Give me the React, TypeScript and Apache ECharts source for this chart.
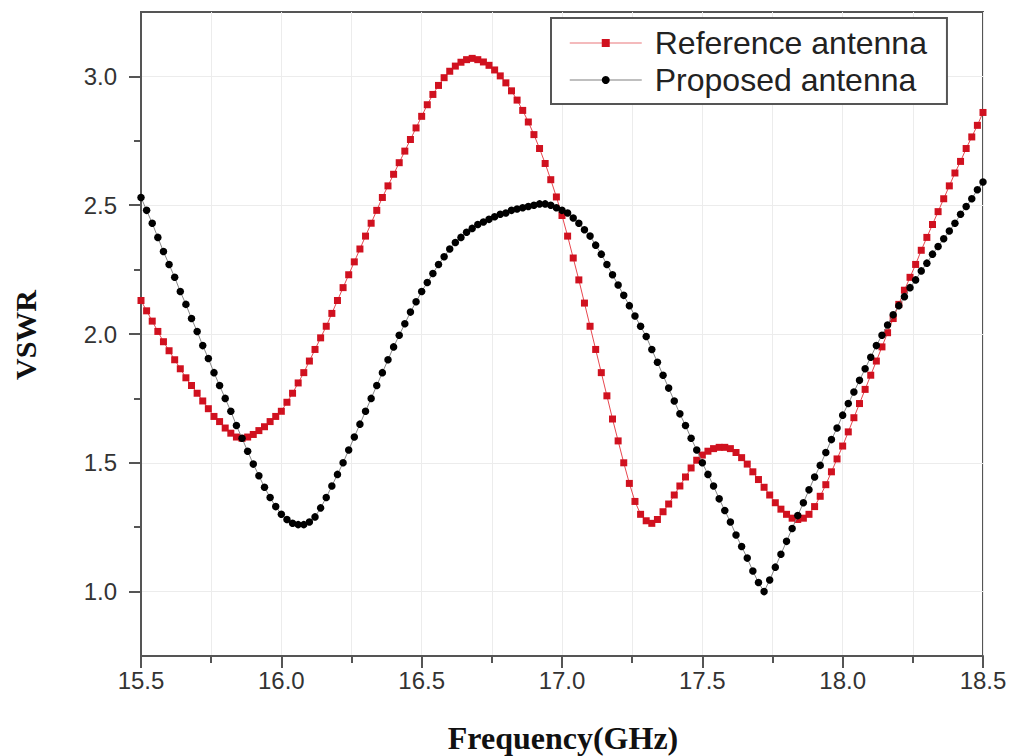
import { useEffect, useRef } from "react";
import * as echarts from "echarts";

// Sampling grid of the measured sweep (GHz)
const FREQ_START = 15.5;
const FREQ_STEP = 0.02;

// VSWR of the reference antenna, 15.50 ... 18.50 GHz every 0.02 GHz
const referenceVswr = [
  2.13, 2.09, 2.05, 2.01, 1.97, 1.935, 1.9, 1.865, 1.83, 1.8,
  1.77, 1.74, 1.71, 1.68, 1.66, 1.635, 1.615, 1.6, 1.595, 1.6,
  1.61, 1.625, 1.64, 1.66, 1.68, 1.7, 1.735, 1.77, 1.81, 1.85,
  1.895, 1.94, 1.985, 2.03, 2.08, 2.13, 2.18, 2.23, 2.28, 2.33,
  2.38, 2.43, 2.48, 2.53, 2.575, 2.62, 2.665, 2.71, 2.755, 2.8,
  2.845, 2.89, 2.93, 2.965, 2.995, 3.02, 3.04, 3.055, 3.065, 3.07,
  3.065, 3.056, 3.043, 3.025, 3.002, 2.975, 2.944, 2.908, 2.868, 2.823,
  2.774, 2.72, 2.662, 2.599, 2.532, 2.46, 2.38, 2.295, 2.21, 2.12,
  2.03, 1.94, 1.85, 1.76, 1.67, 1.585, 1.5, 1.42, 1.35, 1.3,
  1.275, 1.265, 1.28, 1.31, 1.34, 1.375, 1.41, 1.445, 1.48, 1.51,
  1.53, 1.545, 1.555, 1.56, 1.56, 1.555, 1.54, 1.52, 1.495, 1.465,
  1.435, 1.405, 1.375, 1.345, 1.32, 1.3, 1.285, 1.28, 1.285, 1.3,
  1.33, 1.37, 1.415, 1.465, 1.515, 1.565, 1.62, 1.675, 1.73, 1.785,
  1.84, 1.895, 1.95, 2.005, 2.06, 2.115, 2.17, 2.22, 2.27, 2.325,
  2.375, 2.425, 2.475, 2.525, 2.575, 2.625, 2.67, 2.72, 2.765, 2.81,
  2.86,
];

// VSWR of the proposed antenna, same frequency grid
const proposedVswr = [
  2.53, 2.48, 2.43, 2.375, 2.32, 2.27, 2.22, 2.165, 2.115, 2.06,
  2.01, 1.955, 1.905, 1.85, 1.8, 1.75, 1.7, 1.645, 1.595, 1.545,
  1.495, 1.45, 1.405, 1.365, 1.33, 1.3, 1.28, 1.265, 1.26, 1.26,
  1.27, 1.29, 1.325, 1.365, 1.41, 1.455, 1.5, 1.55, 1.6, 1.65,
  1.7, 1.75, 1.8, 1.85, 1.9, 1.95, 1.995, 2.04, 2.085, 2.125,
  2.165, 2.2, 2.235, 2.27, 2.3, 2.33, 2.355, 2.375, 2.395, 2.41,
  2.425, 2.435, 2.445, 2.455, 2.465, 2.47, 2.48, 2.485, 2.49, 2.495,
  2.5, 2.505, 2.505, 2.5, 2.49, 2.48, 2.47, 2.45, 2.43, 2.405,
  2.38, 2.345, 2.31, 2.27, 2.23, 2.19, 2.15, 2.11, 2.07, 2.03,
  1.99, 1.94, 1.89, 1.84, 1.79, 1.74, 1.69, 1.645, 1.595, 1.55,
  1.5, 1.455, 1.41, 1.36, 1.315, 1.27, 1.22, 1.175, 1.13, 1.08,
  1.035, 1.0, 1.045, 1.095, 1.145, 1.195, 1.245, 1.295, 1.345, 1.395,
  1.445, 1.49, 1.54, 1.59, 1.635, 1.685, 1.73, 1.775, 1.82, 1.865,
  1.91, 1.955, 1.995, 2.035, 2.075, 2.11, 2.145, 2.18, 2.21, 2.245,
  2.275, 2.31, 2.34, 2.37, 2.4, 2.43, 2.465, 2.495, 2.525, 2.56,
  2.59,
];

const seriesNames = ["Reference antenna", "Proposed antenna"];
const yMajorTicks = [1.0, 1.5, 2.0, 2.5, 3.0];
const yMinorTicks = [1.25, 1.75, 2.25, 2.75];
const xAxisTitle = "Frequency(GHz)";
const yAxisTitle = "VSWR";

const freq = referenceVswr.map((_, i) => +(FREQ_START + i * FREQ_STEP).toFixed(2));

const AXIS_COLOR = "#555";
const GRID_COLOR = "#ececec";

export default function App() {
  const ref = useRef<HTMLDivElement>(null);

  useEffect(() => {
    const chart = echarts.init(ref.current!, null, { renderer: "svg" });
    chart.setOption({
      animation: false,
      backgroundColor: "#ffffff",
      grid: {
        left: 141,
        right: 30,
        top: 12,
        bottom: 100,
        show: true,
        borderColor: AXIS_COLOR,
        borderWidth: 2,
        backgroundColor: "transparent",
      },
      legend: {
        left: 551,
        top: 18,
        orient: "vertical",
        backgroundColor: "#ffffff",
        borderColor: AXIS_COLOR,
        borderWidth: 2,
        borderRadius: 0,
        padding: [9, 20, 8, 18],
        itemGap: 5,
        itemWidth: 72,
        itemHeight: 10,
        textStyle: {
          fontSize: 32,
          color: "#222",
          fontFamily: "Liberation Sans",
          padding: [0, 0, 0, 8],
        },
        data: [
          { name: seriesNames[0], lineStyle: { color: "#f0a3a6", width: 1.5 } },
          { name: seriesNames[1], lineStyle: { color: "#aaaaaa", width: 1.5 } },
        ],
      },
      xAxis: {
        type: "value",
        min: 15.5,
        max: 18.5,
        interval: 0.5,
        axisLine: { lineStyle: { color: AXIS_COLOR, width: 2 } },
        axisTick: { inside: false, length: 12, lineStyle: { color: AXIS_COLOR, width: 2 } },
        minorTick: { show: true, splitNumber: 2, length: 7, lineStyle: { color: AXIS_COLOR, width: 2 } },
        axisLabel: {
          fontSize: 24,
          color: "#333",
          margin: 12,
          fontFamily: "Liberation Sans",
          formatter: (v: number) => v.toFixed(1),
        },
        splitLine: { show: true, lineStyle: { color: GRID_COLOR, width: 1 } },
        minorSplitLine: { show: true, lineStyle: { color: GRID_COLOR, width: 1 } },
      },
      yAxis: [
        {
          type: "value",
          min: 0.75,
          max: 3.25,
          interval: 0.25,
          axisLine: { show: true, lineStyle: { color: AXIS_COLOR, width: 2 } },
          axisTick: {
            show: true,
            inside: false,
            customValues: yMajorTicks,
            length: 12,
            lineStyle: { color: AXIS_COLOR, width: 2 },
          },
          axisLabel: {
            customValues: yMajorTicks,
            fontSize: 24,
            color: "#333",
            margin: 24,
            fontFamily: "Liberation Sans",
            formatter: (v: number) => v.toFixed(1),
          },
          splitLine: { show: true, lineStyle: { color: GRID_COLOR, width: 1 } },
        },
        {
          type: "value",
          min: 0.75,
          max: 3.25,
          interval: 0.25,
          position: "left",
          axisLine: { show: false },
          axisTick: {
            show: true,
            inside: false,
            customValues: yMinorTicks,
            length: 7,
            lineStyle: { color: AXIS_COLOR, width: 2 },
          },
          axisLabel: { show: false },
          splitLine: { show: false },
        },
      ],
      graphic: [
        {
          type: "text",
          x: 25,
          y: 335,
          rotation: Math.PI / 2,
          style: {
            text: yAxisTitle,
            font: 'bold 30px "Liberation Serif"',
            fill: "#111",
            align: "center",
            verticalAlign: "middle",
          },
        },
        {
          type: "text",
          x: 563,
          y: 738,
          style: {
            text: xAxisTitle,
            font: 'bold 32px "Liberation Serif"',
            fill: "#111",
            align: "center",
            verticalAlign: "middle",
          },
        },
      ],
      series: [
        {
          name: seriesNames[0],
          type: "line",
          data: freq.map((f, i) => [f, referenceVswr[i]]),
          symbol: "rect",
          symbolSize: 7,
          showAllSymbol: true,
          itemStyle: { color: "#d0111f" },
          lineStyle: { color: "#e8474f", width: 1 },
          z: 3,
        },
        {
          name: seriesNames[1],
          type: "line",
          data: freq.map((f, i) => [f, proposedVswr[i]]),
          symbol: "circle",
          symbolSize: 7.5,
          showAllSymbol: true,
          itemStyle: { color: "#000000" },
          lineStyle: { color: "#888888", width: 1 },
          z: 4,
        },
      ],
    });
    return () => chart.dispose();
  }, []);

  return (
    <div
      ref={ref}
      style={{ position: "fixed", left: 0, top: 0, width: 1013, height: 756, background: "#fff" }}
    />
  );
}
